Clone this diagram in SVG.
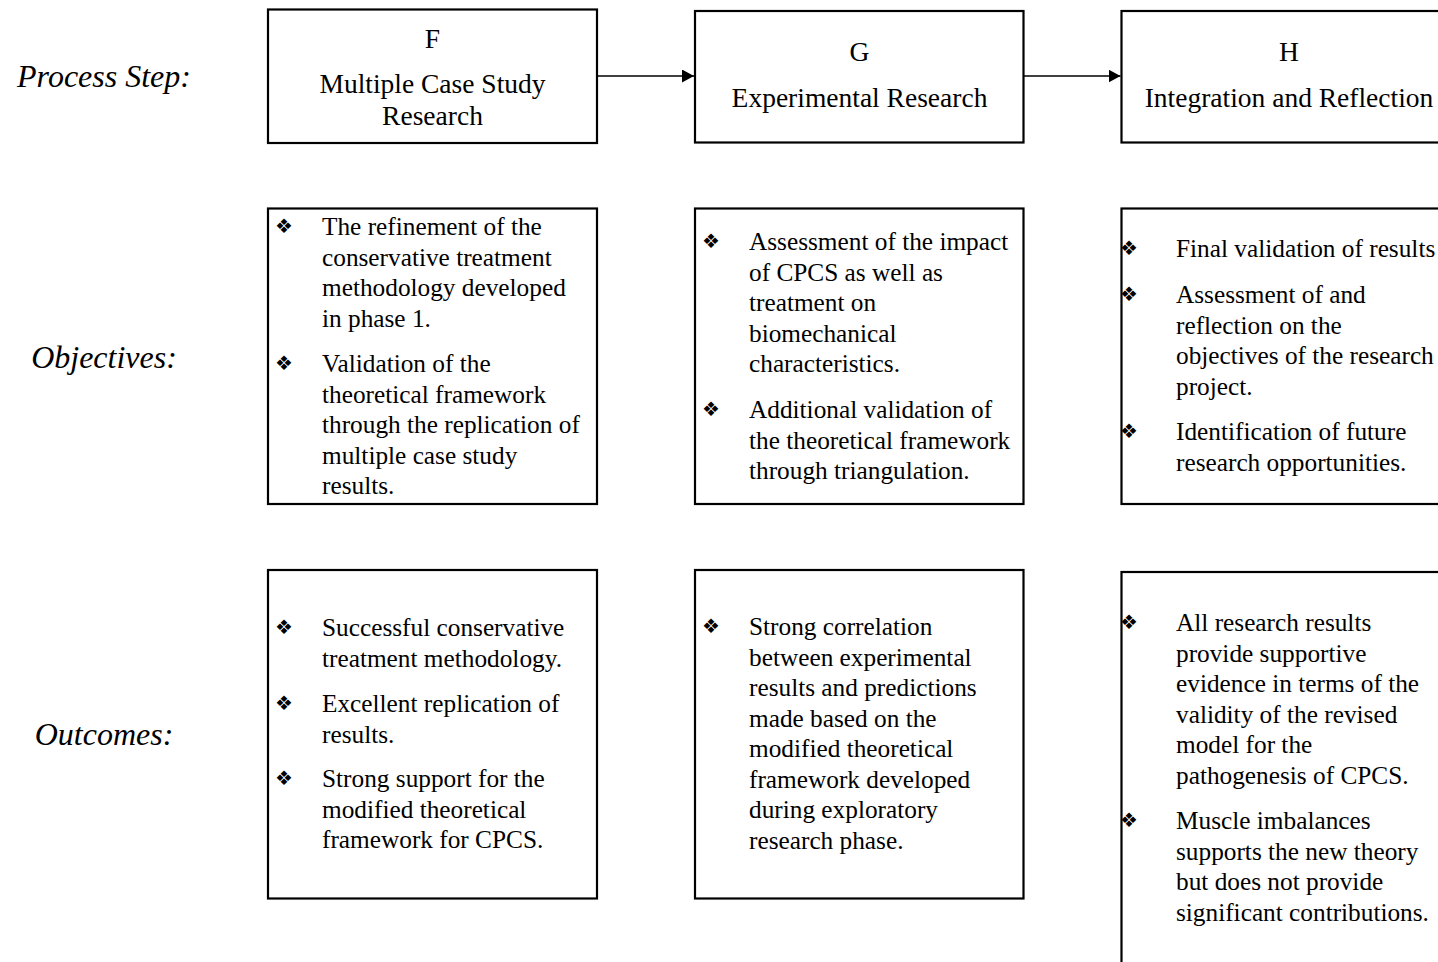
<svg xmlns="http://www.w3.org/2000/svg" width="1438" height="962" viewBox="0 0 1438 962">
<style>
.box{fill:#fff;stroke:#000;stroke-width:2.2}
.lbl{font-family:"Liberation Serif","Times New Roman",serif;font-style:italic;font-size:32px;fill:#000;text-anchor:middle}
.hd{font-family:"Liberation Serif","Times New Roman",serif;font-size:27.5px;fill:#000;text-anchor:middle}
.tx{font-family:"Liberation Serif","Times New Roman",serif;font-size:25.3px;fill:#000}
.bu{font-family:"DejaVu Sans",sans-serif;font-size:20px;fill:#000}
.conn{stroke:#000;stroke-width:1.5;fill:none}
</style>
<defs>
<marker id="arr" markerWidth="13" markerHeight="13" refX="12" refY="6.5" orient="auto" markerUnits="userSpaceOnUse">
<path d="M0,0 L12,6.5 L0,13 Z" fill="#000"/>
</marker>
</defs>
<rect width="1438" height="962" fill="#fff"/>

<g id="labels">
<text class="lbl" x="104" y="87">Process Step:</text>
<text class="lbl" x="104" y="368">Objectives:</text>
<text class="lbl" x="104" y="745">Outcomes:</text>
</g>

<g id="connectors">
<line class="conn" x1="597" y1="76" x2="694" y2="76" marker-end="url(#arr)"/>
<line class="conn" x1="1024" y1="76" x2="1120.5" y2="76" marker-end="url(#arr)"/>
</g>

<g id="stepF">
<rect class="box" x="268" y="9.5" width="329" height="133.5"/>
<text class="hd" x="432.5" y="48">F</text>
<text class="hd" x="432.5" y="93">Multiple Case Study</text>
<text class="hd" x="432.5" y="125">Research</text>
</g>

<g id="stepG">
<rect class="box" x="695" y="11" width="328.5" height="131.5"/>
<text class="hd" x="859.5" y="61">G</text>
<text class="hd" x="859.5" y="107">Experimental Research</text>
</g>

<g id="stepH">
<rect class="box" x="1121.5" y="11" width="335" height="131.5"/>
<text class="hd" x="1289" y="61">H</text>
<text class="hd" x="1289" y="107">Integration and Reflection</text>
</g>

<g id="objF">
<rect class="box" x="268" y="208.5" width="329" height="295.5"/>
<text class="bu" x="275" y="233">❖</text>
<text class="tx" x="322" y="235">The refinement of the</text>
<text class="tx" x="322" y="265.5">conservative treatment</text>
<text class="tx" x="322" y="296">methodology developed</text>
<text class="tx" x="322" y="326.5">in phase 1.</text>
<text class="bu" x="275" y="370">❖</text>
<text class="tx" x="322" y="372">Validation of the</text>
<text class="tx" x="322" y="402.5">theoretical framework</text>
<text class="tx" x="322" y="433">through the replication of</text>
<text class="tx" x="322" y="463.5">multiple case study</text>
<text class="tx" x="322" y="494">results.</text>
</g>

<g id="objG">
<rect class="box" x="695" y="208.5" width="328.5" height="295.5"/>
<text class="bu" x="702" y="248">❖</text>
<text class="tx" x="749" y="250">Assessment of the impact</text>
<text class="tx" x="749" y="280.5">of CPCS as well as</text>
<text class="tx" x="749" y="311">treatment on</text>
<text class="tx" x="749" y="341.5">biomechanical</text>
<text class="tx" x="749" y="372">characteristics.</text>
<text class="bu" x="702" y="416">❖</text>
<text class="tx" x="749" y="418">Additional validation of</text>
<text class="tx" x="749" y="448.5">the theoretical framework</text>
<text class="tx" x="749" y="479">through triangulation.</text>
</g>

<g id="objH">
<rect class="box" x="1121.5" y="208.5" width="335" height="295.5"/>
<text class="bu" x="1120" y="255">❖</text>
<text class="tx" x="1176" y="257">Final validation of results</text>
<text class="bu" x="1120" y="301">❖</text>
<text class="tx" x="1176" y="303">Assessment of and</text>
<text class="tx" x="1176" y="333.5">reflection on the</text>
<text class="tx" x="1176" y="364">objectives of the research</text>
<text class="tx" x="1176" y="394.5">project.</text>
<text class="bu" x="1120" y="438">❖</text>
<text class="tx" x="1176" y="440">Identification of future</text>
<text class="tx" x="1176" y="470.5">research opportunities.</text>
</g>

<g id="outF">
<rect class="box" x="268" y="570" width="329" height="328.5"/>
<text class="bu" x="275" y="634">❖</text>
<text class="tx" x="322" y="636">Successful conservative</text>
<text class="tx" x="322" y="666.5">treatment methodology.</text>
<text class="bu" x="275" y="710">❖</text>
<text class="tx" x="322" y="712">Excellent replication of</text>
<text class="tx" x="322" y="742.5">results.</text>
<text class="bu" x="275" y="785">❖</text>
<text class="tx" x="322" y="787">Strong support for the</text>
<text class="tx" x="322" y="817.5">modified theoretical</text>
<text class="tx" x="322" y="848">framework for CPCS.</text>
</g>

<g id="outG">
<rect class="box" x="695" y="570" width="328.5" height="328.5"/>
<text class="bu" x="702" y="633">❖</text>
<text class="tx" x="749" y="635">Strong correlation</text>
<text class="tx" x="749" y="665.5">between experimental</text>
<text class="tx" x="749" y="696">results and predictions</text>
<text class="tx" x="749" y="726.5">made based on the</text>
<text class="tx" x="749" y="757">modified theoretical</text>
<text class="tx" x="749" y="787.5">framework developed</text>
<text class="tx" x="749" y="818">during exploratory</text>
<text class="tx" x="749" y="848.5">research phase.</text>
</g>

<g id="outH">
<rect class="box" x="1121.5" y="572" width="335" height="400"/>
<text class="bu" x="1120" y="629">❖</text>
<text class="tx" x="1176" y="631">All research results</text>
<text class="tx" x="1176" y="661.5">provide supportive</text>
<text class="tx" x="1176" y="692">evidence in terms of the</text>
<text class="tx" x="1176" y="722.5">validity of the revised</text>
<text class="tx" x="1176" y="753">model for the</text>
<text class="tx" x="1176" y="783.5">pathogenesis of CPCS.</text>
<text class="bu" x="1120" y="827">❖</text>
<text class="tx" x="1176" y="829">Muscle imbalances</text>
<text class="tx" x="1176" y="859.5">supports the new theory</text>
<text class="tx" x="1176" y="890">but does not provide</text>
<text class="tx" x="1176" y="920.5">significant contributions.</text>
</g>
</svg>
